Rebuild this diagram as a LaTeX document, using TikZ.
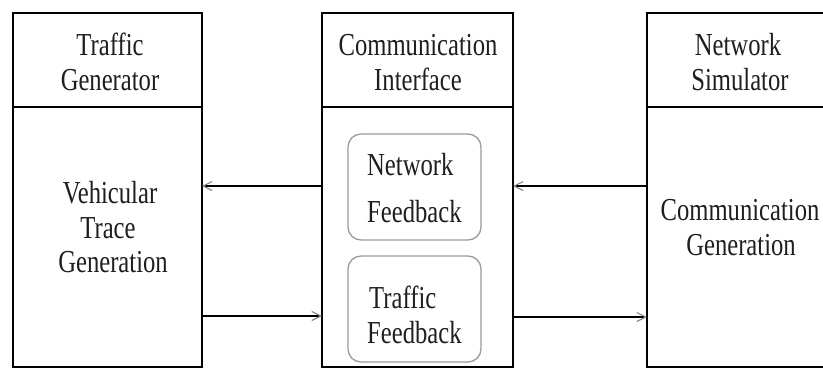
\documentclass[tikz,border=0pt]{standalone}
\usepackage{fontspec}
\setmainfont[FakeStretch=0.77]{Liberation Serif}
\usetikzlibrary{arrows.meta}
\definecolor{txt}{HTML}{1E1E1E}
\definecolor{inner}{HTML}{9A9A9A}
\begin{document}
\begin{tikzpicture}[x=1pt,y=1pt,
  blk/.style={draw=black,line width=2pt,minimum width=#1,inner sep=0pt,outer sep=0pt},
  rbox/.style={draw=inner,line width=1.3pt,rounded corners=13pt,minimum width=133pt,minimum height=106pt,inner sep=0pt},
  lbl/.style={anchor=base,inner sep=0pt,text=txt,font=\fontsize{32}{35}\selectfont},
  lbll/.style={anchor=base west,inner sep=0pt,text=txt,font=\fontsize{32}{35}\selectfont},
  arr/.style={line width=2pt,-{Straight Barb[length=9pt,width=9pt,line width=1.1pt,color=gray]}}]
\useasboundingbox (0,0) rectangle (823,-368);
\clip (0,0) rectangle (823,-368);
% left column
\node[blk=189pt,minimum height=94pt] (lh) at (107.5,-60) {};
\node[blk=189pt,minimum height=260pt] (lb) at (107.5,-237) {};
% middle column
\node[blk=191pt,minimum height=94pt] (mh) at (417.5,-60) {};
\node[blk=191pt,minimum height=260pt] (mb) at (417.5,-237) {};
% right column
\node[blk=190pt,minimum height=94pt] (rh) at (742,-60) {};
\node[blk=190pt,minimum height=260pt] (rb) at (742,-237) {};
% inner rounded boxes
\node[rbox] (nf) at (414.5,-187) {};
\node[rbox] (tf) at (414.5,-309) {};
% header texts
\node[lbl] (t1) at (110,-55) {Traffic};
\node[lbl] (t2) at (110,-90) {Generator};
\node[lbl] (t3) at (418,-55) {Communication};
\node[lbl] (t4) at (418,-90) {Interface};
\node[lbl] (t5) at (738,-55) {Network};
\node[lbl] (t6) at (740,-90) {Simulator};
% body texts
\node[lbl] (b1) at (110,-203) {Vehicular};
\node[lbl] (b2) at (108,-238) {Trace};
\node[lbl] (b3) at (113,-272) {Generation};
\node[lbl] (b4) at (740,-220) {Communication};
\node[lbl] (b5) at (741,-255) {Generation};
\node[lbll] (n1) at (367,-175) {Network};
\node[lbll] (n2) at (367,-222) {Feedback};
\node[lbll] (n3) at (369,-308) {Traffic};
\node[lbll] (n4) at (367,-343) {Feedback};
% arrows
\draw[arr] (mb.west |- 0,-186) -- (lb.east |- 0,-186);
\draw[arr] (lb.east |- 0,-316) -- (mb.west |- 0,-316);
\draw[arr] (rb.west |- 0,-186) -- (mb.east |- 0,-186);
\draw[arr] (mb.east |- 0,-317) -- (rb.west |- 0,-317);
\end{tikzpicture}
\end{document}
